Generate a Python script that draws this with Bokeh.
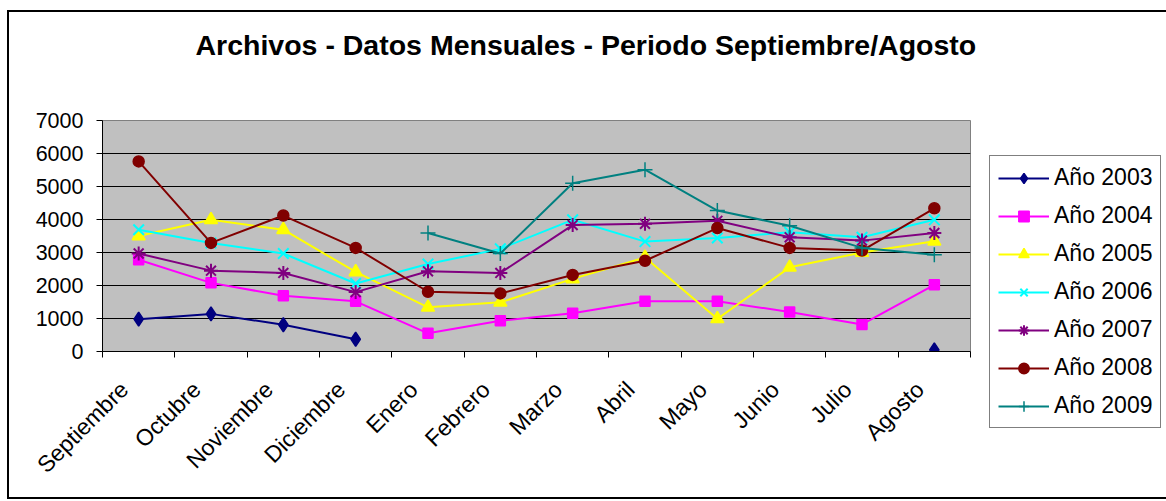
import math
from bokeh.plotting import figure
from bokeh.models import FixedTicker, Legend, LegendItem, Range1d, Title
from bokeh.embed import file_html
from bokeh.resources import INLINE

meses = ["Septiembre", "Octubre", "Noviembre", "Diciembre", "Enero", "Febrero",
         "Marzo", "Abril", "Mayo", "Junio", "Julio", "Agosto"]
nan = float("nan")
a2003 = [980, 1140, 810, 370, nan, nan, nan, nan, nan, nan, nan, 50]
a2004 = [2780, 2080, 1690, 1520, 550, 930, 1160, 1520, 1520, 1200, 820, 2020]
a2005 = [3500, 3990, 3690, 2410, 1340, 1490, 2200, 2850, 990, 2550, 3000, 3340]
a2006 = [3690, 3290, 2970, 2060, 2650, 3110, 3990, 3330, 3440, 3610, 3460, 3990]
a2007 = [2970, 2450, 2380, 1800, 2430, 2380, 3830, 3870, 3960, 3460, 3360, 3590]
a2008 = [5760, 3290, 4120, 3140, 1810, 1760, 2320, 2750, 3740, 3140, 3060, 4340]
a2009 = [nan, nan, nan, nan, 3590, 2970, 5100, 5510, 4270, 3810, 3140, 2930]

# name, values, colour, marker, size, marker line width
series = [
    ("Año 2003", a2003, "#000080", "diamond", 14, 1.5),
    ("Año 2004", a2004, "#FF00FF", "square", 10, 1.5),
    ("Año 2005", a2005, "#FFFF00", "triangle", 13, 1.5),
    ("Año 2006", a2006, "#00FFFF", "x", 15, 2),
    ("Año 2007", a2007, "#800080", "asterisk", 14, 2),
    ("Año 2008", a2008, "#800000", "circle", 11, 1.5),
    ("Año 2009", a2009, "#008080", "cross", 15, 1.5),
]

FONT = "Liberation Sans"
xs = [i + 0.5 for i in range(len(meses))]
label_pos = [x - 0.2 for x in xs]

p = figure(frame_width=868, frame_height=231, output_backend="svg",
           toolbar_location=None, title=None,
           x_range=Range1d(0, len(meses)), y_range=Range1d(0, 7000),
           min_border_left=93, min_border_right=191, min_border_top=108,
           min_border_bottom=146)
p.styles = {"border": "2px solid black", "margin-left": "7px", "margin-top": "10px"}

spacer = Title(text=" ", text_font_size="10px", standoff=37)
p.add_layout(spacer, "above")
title = Title(text="Archivos - Datos Mensuales - Periodo Septiembre/Agosto",
              text_font=FONT, text_font_style="bold", text_font_size="28.5px",
              text_color="black", align="left", offset=93, standoff=20)
p.add_layout(title, "above")

p.background_fill_color = "#C0C0C0"
p.border_fill_color = "white"
p.outline_line_color = "#808080"
p.outline_line_width = 1

p.xgrid.visible = False
p.ygrid.grid_line_color = "black"
p.ygrid.grid_line_width = 1

p.yaxis.ticker = FixedTicker(ticks=list(range(0, 7001, 1000)))
p.yaxis.major_tick_out = 6
p.yaxis.major_tick_in = 0
p.yaxis.minor_tick_line_color = None
p.yaxis.major_label_text_font = FONT
p.yaxis.major_label_text_font_size = "21.5px"
p.yaxis.major_label_text_color = "black"
p.yaxis.major_label_standoff = 13
p.yaxis.axis_line_color = "black"

p.xaxis.ticker = FixedTicker(ticks=label_pos, minor_ticks=list(range(len(meses) + 1)))
p.xaxis.major_label_overrides = {x: m for x, m in zip(label_pos, meses)}
p.xaxis.major_tick_line_color = None
p.xaxis.minor_tick_out = 6
p.xaxis.minor_tick_in = 0
p.xaxis.major_label_orientation = math.pi / 4
p.xaxis.major_label_text_font = FONT
p.xaxis.major_label_text_font_size = "23px"
p.xaxis.major_label_text_color = "black"
p.xaxis.major_label_standoff = 28
p.xaxis.axis_line_color = "black"

items = []
for name, vals, color, marker, size, lw in series:
    r1 = p.line(xs, vals, line_color=color, line_width=2)
    r2 = p.scatter(xs, vals, marker=marker, size=size,
                   fill_color=color, line_color=color, line_width=lw)
    items.append(LegendItem(label=name, renderers=[r1, r2]))

legend = Legend(items=items, location=(19, -77))
legend.label_text_font = FONT
legend.label_text_font_size = "23px"
legend.label_text_color = "black"
legend.glyph_width = 51
legend.glyph_height = 26
legend.label_height = 26
legend.spacing = 11
legend.padding = 8
legend.margin = 0
legend.label_standoff = 5
legend.border_line_color = "black"
legend.border_line_width = 1
legend.background_fill_color = "white"
legend.background_fill_alpha = 1
p.add_layout(legend, "right")

open("out.html", "w").write(file_html(p, INLINE))
